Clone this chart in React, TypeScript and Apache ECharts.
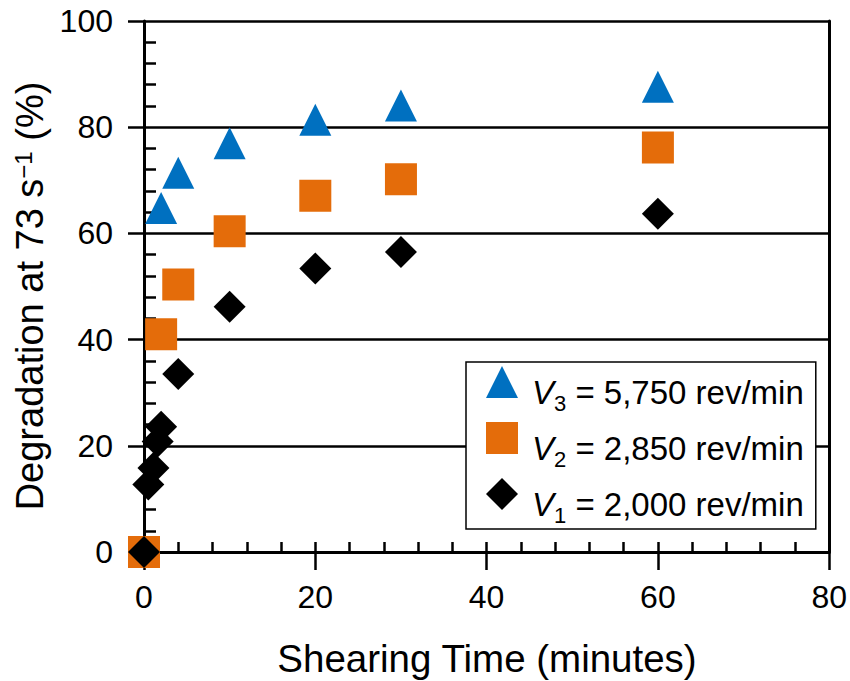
import React, { useEffect, useRef } from "react";
import * as echarts from "echarts";

const FONT = "'Liberation Sans', Arial, Helvetica, sans-serif";

const xTicks = [0, 20, 40, 60, 80];
const yTicks = [0, 20, 40, 60, 80, 100];

// V3 = 5,750 rev/min (triangles)
const v3Time = [2, 4, 10, 20, 30, 60];
const v3Deg = [64.8, 71.4, 77.0, 81.4, 84.1, 87.6];
// V2 = 2,850 rev/min (squares)
const v2Time = [0, 2, 4, 10, 20, 30, 60];
const v2Deg = [0, 41.0, 50.4, 60.4, 67.1, 70.2, 76.2];
// V1 = 2,000 rev/min (diamonds)
const v1Time = [0, 0.5, 1.1, 1.6, 2, 4, 10, 20, 30, 60];
const v1Deg = [0, 12.7, 15.8, 20.8, 23.6, 33.5, 46.2, 53.4, 56.5, 63.7];

const seriesNames = ["V3", "V2", "V1"];
const legendLabels: Record<string, [string, string]> = {
  V3: ["3", " = 5,750 rev/min"],
  V2: ["2", " = 2,850 rev/min"],
  V1: ["1", " = 2,000 rev/min"],
};

const pairs = (xs: number[], ys: number[]) => xs.map((x, i) => [x, ys[i]]);

export default function App() {
  const ref = useRef<HTMLDivElement>(null);
  useEffect(() => {
    if (!ref.current) return;
    const chart = echarts.init(ref.current, undefined, { renderer: "svg" });
    const black = "#000";
    const baseAxis = {
      min: 0,
      splitLine: { show: false },
    };
    chart.setOption({
      animation: false,
      backgroundColor: "#fff",
      grid: { left: 144, right: 16, top: 21, bottom: 129, containLabel: false },
      xAxis: [
        {
          ...baseAxis,
          type: "value",
          position: "bottom",
          max: 80,
          interval: 20,
          axisLine: { show: true, onZero: false, lineStyle: { color: black, width: 3 } },
          axisTick: { show: true, inside: false, length: 18, lineStyle: { color: black, width: 2.5 } },
          axisLabel: {
            show: true,
            margin: 29,
            color: black,
            fontSize: 32,
            fontFamily: FONT,
            formatter: (v: number) => (xTicks.includes(v) ? String(v) : ""),
          },
        },
        {
          ...baseAxis,
          type: "value",
          position: "bottom",
          max: 80,
          interval: 20,
          axisLine: { show: false, onZero: false },
          axisTick: { show: true, inside: true, length: 10, lineStyle: { color: black, width: 2.5 } },
          minorTick: { show: true, splitNumber: 5, length: 10, lineStyle: { color: black, width: 2.5 } },
          axisLabel: { show: false },
        },
      ],
      yAxis: [
        {
          ...baseAxis,
          type: "value",
          position: "left",
          max: 100,
          interval: 20,
          axisLine: { show: true, onZero: false, lineStyle: { color: black, width: 3 } },
          axisTick: { show: true, inside: false, length: 16, lineStyle: { color: black, width: 2.5 } },
          axisLabel: {
            show: true,
            margin: 31,
            color: black,
            fontSize: 32,
            fontFamily: FONT,
            formatter: (v: number) => (yTicks.includes(v) ? String(v) : ""),
          },
          splitLine: { show: true, lineStyle: { color: black, width: 2.5 } },
        },
        {
          ...baseAxis,
          type: "value",
          position: "left",
          max: 100,
          interval: 20,
          axisLine: { show: false, onZero: false },
          axisTick: { show: false, inside: true },
          minorTick: { show: true, splitNumber: 5, length: 12, lineStyle: { color: black, width: 2.5 } },
          axisLabel: { show: false },
        },
        {
          ...baseAxis,
          type: "value",
          position: "right",
          max: 100,
          interval: 20,
          axisLine: { show: true, onZero: false, lineStyle: { color: black, width: 3 } },
          axisTick: { show: false },
          axisLabel: { show: false },
        },
      ],
      legend: {
        orient: "vertical",
        left: 466,
        top: 362,
        data: [
          { name: "V3", icon: "triangle" },
          { name: "V2", icon: "rect" },
          { name: "V1", icon: "diamond" },
        ],
        itemWidth: 32,
        itemHeight: 32,
        itemGap: 8,
        padding: [4, 12, 3, 20],
        backgroundColor: "#fff",
        borderColor: "#000",
        borderWidth: 1.5,
        borderRadius: 0,
        selectedMode: false,
        formatter: (name: string) => {
          const [sub, rest] = legendLabels[name];
          return `{g|}{v|V}{s|${sub}}{t|${rest}}`;
        },
        textStyle: {
          color: black,
          fontFamily: FONT,
          fontSize: 33,
          rich: {
            g: { width: 9, lineHeight: 32, padding: [9.5, 0, 0, 0], verticalAlign: "top" },
            v: { fontSize: 33, fontStyle: "italic", fontFamily: FONT, color: black, lineHeight: 32, padding: [9.5, 0, 0, 0], verticalAlign: "top" },
            s: { fontSize: 22, fontFamily: FONT, color: black, lineHeight: 21, padding: [26, 0, 0, 0], verticalAlign: "top" },
            t: { fontSize: 33, fontFamily: FONT, color: black, lineHeight: 32, padding: [9.5, 0, 0, 0], verticalAlign: "top" },
          },
        },
      },
      graphic: [
        {
          type: "text",
          x: 30,
          y: 296,
          rotation: Math.PI / 2,
          style: {
            text: "Degradation at 73 s{sup|\u22121} (%)",
            fontSize: 38,
            fontFamily: FONT,
            fill: black,
            align: "center",
            verticalAlign: "middle",
            lineHeight: 38,
            rich: {
              sup: { fontSize: 24, fontFamily: FONT, fill: black, lineHeight: 24, verticalAlign: "top" },
            },
          },
        },
        {
          type: "text",
          x: 487,
          y: 658,
          style: {
            text: "Shearing Time (minutes)",
            fontSize: 38.5,
            fontFamily: FONT,
            fill: black,
            align: "center",
            verticalAlign: "middle",
          },
        },
      ],
      series: [
        {
          name: seriesNames[0],
          type: "scatter",
          symbol: "triangle",
          symbolSize: 32,
          clip: false,
          itemStyle: { color: "#0070C0", opacity: 1 },
          data: pairs(v3Time, v3Deg),
        },
        {
          name: seriesNames[1],
          type: "scatter",
          symbol: "rect",
          symbolSize: 32,
          clip: false,
          itemStyle: { color: "#E46C0A", opacity: 1 },
          data: pairs(v2Time, v2Deg),
        },
        {
          name: seriesNames[2],
          type: "scatter",
          symbol: "diamond",
          symbolSize: 32,
          clip: false,
          itemStyle: { color: "#000000", opacity: 1 },
          data: pairs(v1Time, v1Deg),
        },
      ],
    });
    return () => chart.dispose();
  }, []);
  return (
    <div
      ref={ref}
      style={{ position: "fixed", left: 0, top: 0, width: 850, height: 681, background: "#fff" }}
    />
  );
}
